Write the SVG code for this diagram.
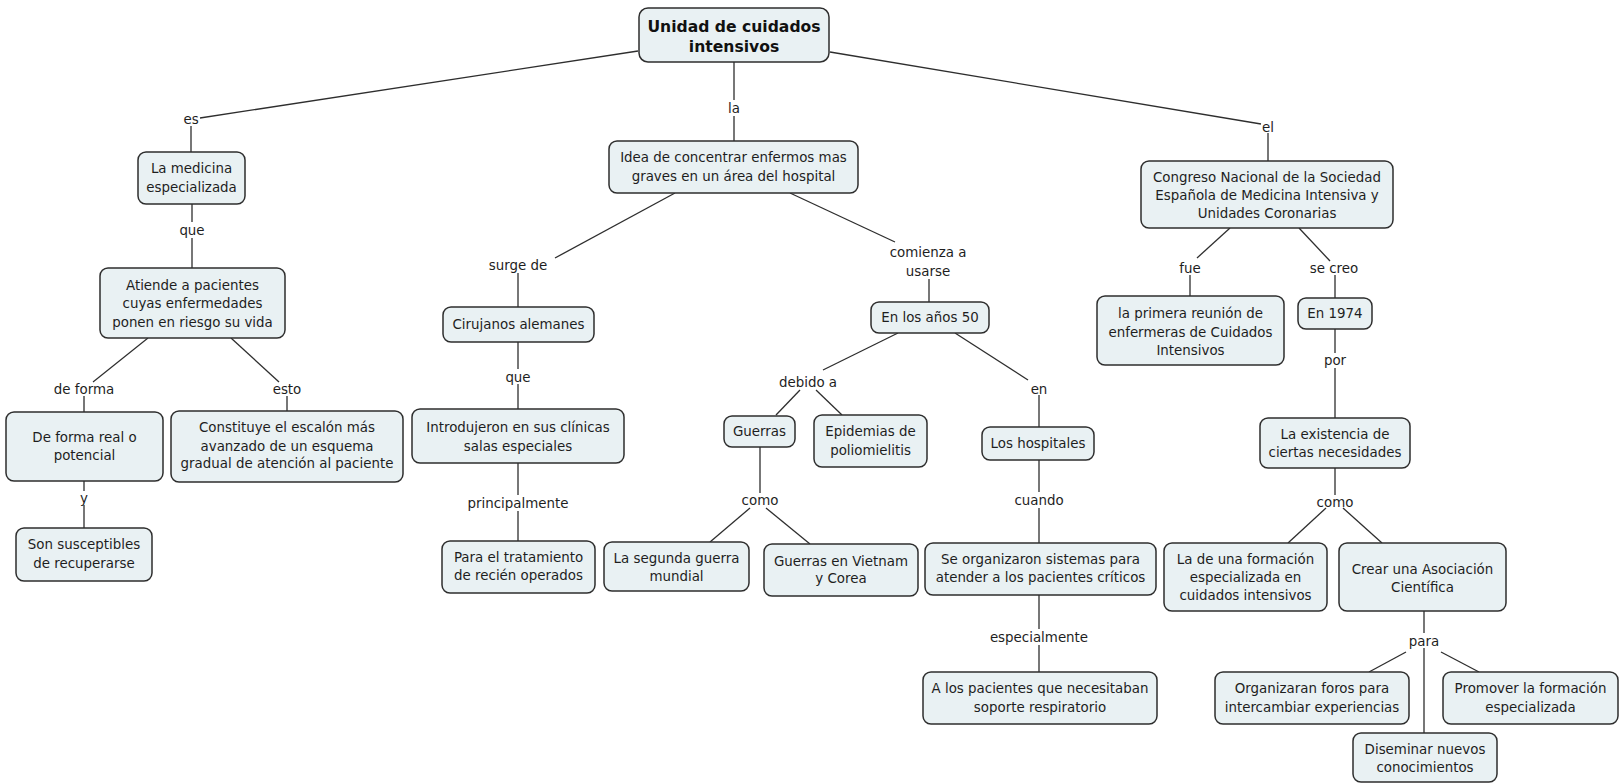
<svg xmlns="http://www.w3.org/2000/svg" width="1620" height="784" viewBox="0 0 1620 784">
<style>
.n rect{fill:#e9f1f3;stroke:#2e2e2e;stroke-width:1.5}
text{font-family:"DejaVu Sans","Liberation Sans",sans-serif;font-size:13.4px;fill:#1e1e1e;text-anchor:middle}
.b{font-weight:bold;font-size:15.6px;fill:#111}
.c line{stroke:#2e2e2e;stroke-width:1.3}
</style>
<rect width="1620" height="784" fill="#ffffff"/>
<g class="c" id="connectors">
<line x1="638" y1="51" x2="200" y2="118"/>
<line x1="191" y1="126" x2="191" y2="152"/>
<line x1="192" y1="204" x2="192" y2="222"/>
<line x1="192" y1="238" x2="192" y2="268"/>
<line x1="148" y1="338" x2="93" y2="382"/>
<line x1="231" y1="338" x2="279" y2="382"/>
<line x1="84" y1="396" x2="84" y2="412"/>
<line x1="287" y1="396" x2="287" y2="411"/>
<line x1="84" y1="481" x2="84" y2="491"/>
<line x1="84" y1="505" x2="84" y2="528"/>
<line x1="734" y1="62" x2="734" y2="100"/>
<line x1="734" y1="116" x2="734" y2="141"/>
<line x1="675" y1="193" x2="555" y2="258"/>
<line x1="518" y1="273" x2="518" y2="307"/>
<line x1="518" y1="342" x2="518" y2="369"/>
<line x1="518" y1="384" x2="518" y2="409"/>
<line x1="518" y1="463" x2="518" y2="495"/>
<line x1="518" y1="511" x2="518" y2="541"/>
<line x1="790" y1="193" x2="895" y2="242"/>
<line x1="929" y1="279" x2="929" y2="302"/>
<line x1="898" y1="333" x2="823" y2="370"/>
<line x1="955" y1="333" x2="1028" y2="380"/>
<line x1="800" y1="390" x2="776" y2="415"/>
<line x1="816" y1="390" x2="842" y2="415"/>
<line x1="1039" y1="395" x2="1039" y2="427"/>
<line x1="760" y1="447" x2="760" y2="493"/>
<line x1="750" y1="508" x2="710" y2="542"/>
<line x1="766" y1="508" x2="810" y2="544"/>
<line x1="1039" y1="460" x2="1039" y2="492"/>
<line x1="1039" y1="508" x2="1039" y2="543"/>
<line x1="1039" y1="595" x2="1039" y2="629"/>
<line x1="1039" y1="645" x2="1039" y2="672"/>
<line x1="830" y1="52" x2="1261" y2="124"/>
<line x1="1268" y1="133" x2="1268" y2="161"/>
<line x1="1230" y1="228" x2="1197" y2="258"/>
<line x1="1299" y1="228" x2="1330" y2="261"/>
<line x1="1190" y1="275" x2="1190" y2="296"/>
<line x1="1335" y1="275" x2="1335" y2="298"/>
<line x1="1335" y1="329" x2="1335" y2="353"/>
<line x1="1335" y1="368" x2="1335" y2="418"/>
<line x1="1335" y1="468" x2="1335" y2="495"/>
<line x1="1326" y1="508" x2="1288" y2="543"/>
<line x1="1343" y1="508" x2="1382" y2="543"/>
<line x1="1424" y1="611" x2="1424" y2="633"/>
<line x1="1406" y1="652" x2="1369" y2="672"/>
<line x1="1441" y1="652" x2="1479" y2="672"/>
<line x1="1424" y1="648" x2="1424" y2="733"/>
</g>
<g id="labels">
<text x="191" y="124">es</text>
<text x="192" y="235">que</text>
<text x="84" y="394">de forma</text>
<text x="287" y="394">esto</text>
<text x="84" y="503">y</text>
<text x="734" y="113">la</text>
<text x="518" y="270">surge de</text>
<text x="518" y="382">que</text>
<text x="518" y="508">principalmente</text>
<text x="928" y="257">comienza a</text>
<text x="928" y="276">usarse</text>
<text x="808" y="387">debido a</text>
<text x="1039" y="394">en</text>
<text x="760" y="505">como</text>
<text x="1039" y="505">cuando</text>
<text x="1039" y="642">especialmente</text>
<text x="1268" y="132">el</text>
<text x="1190" y="273">fue</text>
<text x="1334" y="273">se creo</text>
<text x="1335" y="365">por</text>
<text x="1335" y="507">como</text>
<text x="1424" y="646">para</text>
</g>
<g class="n" id="n-root"><rect x="639" y="8" width="190" height="54" rx="9"/><text class="b" x="734" y="31.6">Unidad de cuidados</text><text class="b" x="734" y="51.6">intensivos</text></g>
<g class="n" id="n-medicina"><rect x="138" y="152" width="107" height="52" rx="8"/><text x="191.5" y="173">La medicina</text><text x="191.5" y="192">especializada</text></g>
<g class="n" id="n-atiende"><rect x="100" y="268" width="185" height="70" rx="8"/><text x="192.5" y="290">Atiende a pacientes</text><text x="192.5" y="308">cuyas enfermedades</text><text x="192.5" y="327">ponen en riesgo su vida</text></g>
<g class="n" id="n-deforma"><rect x="6" y="412" width="157" height="69" rx="8"/><text x="84.5" y="442">De forma real o</text><text x="84.5" y="460">potencial</text></g>
<g class="n" id="n-constituye"><rect x="171" y="411" width="232" height="71" rx="8"/><text x="287" y="432">Constituye el escalón más</text><text x="287" y="451">avanzado de un esquema</text><text x="287" y="468">gradual de atención al paciente</text></g>
<g class="n" id="n-son"><rect x="16" y="528" width="136" height="53" rx="8"/><text x="84" y="549">Son susceptibles</text><text x="84" y="568">de recuperarse</text></g>
<g class="n" id="n-idea"><rect x="609" y="141" width="249" height="52" rx="8"/><text x="733.5" y="162">Idea de concentrar enfermos mas</text><text x="733.5" y="181">graves en un área del hospital</text></g>
<g class="n" id="n-cirujanos"><rect x="443" y="307" width="151" height="35" rx="8"/><text x="518.5" y="329">Cirujanos alemanes</text></g>
<g class="n" id="n-introdujeron"><rect x="412" y="409" width="212" height="54" rx="8"/><text x="518" y="432">Introdujeron en sus clínicas</text><text x="518" y="451">salas especiales</text></g>
<g class="n" id="n-tratamiento"><rect x="442" y="541" width="153" height="52" rx="8"/><text x="518.5" y="562">Para el tratamiento</text><text x="518.5" y="580">de recién operados</text></g>
<g class="n" id="n-anos50"><rect x="871" y="302" width="118" height="31" rx="8"/><text x="930" y="322">En los años 50</text></g>
<g class="n" id="n-guerras"><rect x="724" y="416" width="71" height="31" rx="8"/><text x="759.5" y="436">Guerras</text></g>
<g class="n" id="n-epidemias"><rect x="814" y="415" width="113" height="52" rx="8"/><text x="870.5" y="436">Epidemias de</text><text x="870.5" y="455">poliomielitis</text></g>
<g class="n" id="n-segunda"><rect x="604" y="542" width="145" height="49" rx="8"/><text x="676.5" y="563">La segunda guerra</text><text x="676.5" y="581">mundial</text></g>
<g class="n" id="n-vietnam"><rect x="764" y="544" width="154" height="52" rx="8"/><text x="841" y="566">Guerras en Vietnam</text><text x="841" y="583">y Corea</text></g>
<g class="n" id="n-hospitales"><rect x="982" y="427" width="112" height="33" rx="8"/><text x="1038" y="448">Los hospitales</text></g>
<g class="n" id="n-organizaron"><rect x="925" y="543" width="231" height="52" rx="8"/><text x="1040.5" y="564">Se organizaron sistemas para</text><text x="1040.5" y="582">atender a los pacientes críticos</text></g>
<g class="n" id="n-apacientes"><rect x="923" y="672" width="234" height="52" rx="8"/><text x="1040" y="693">A los pacientes que necesitaban</text><text x="1040" y="712">soporte respiratorio</text></g>
<g class="n" id="n-congreso"><rect x="1141" y="161" width="252" height="67" rx="8"/><text x="1267" y="182">Congreso Nacional de la Sociedad</text><text x="1267" y="200">Española de Medicina Intensiva y</text><text x="1267" y="218">Unidades Coronarias</text></g>
<g class="n" id="n-primera"><rect x="1097" y="296" width="187" height="69" rx="8"/><text x="1190.5" y="318">la primera reunión de</text><text x="1190.5" y="337">enfermeras de Cuidados</text><text x="1190.5" y="355">Intensivos</text></g>
<g class="n" id="n-1974"><rect x="1298" y="298" width="74" height="31" rx="8"/><text x="1335" y="318">En 1974</text></g>
<g class="n" id="n-existencia"><rect x="1260" y="418" width="150" height="50" rx="8"/><text x="1335" y="439">La existencia de</text><text x="1335" y="457">ciertas necesidades</text></g>
<g class="n" id="n-ladeuna"><rect x="1164" y="543" width="163" height="68" rx="8"/><text x="1245.5" y="564">La de una formación</text><text x="1245.5" y="582">especializada en</text><text x="1245.5" y="600">cuidados intensivos</text></g>
<g class="n" id="n-crear"><rect x="1339" y="543" width="167" height="68" rx="8"/><text x="1422.5" y="574">Crear una Asociación</text><text x="1422.5" y="592">Científica</text></g>
<g class="n" id="n-organizaran"><rect x="1215" y="672" width="194" height="52" rx="8"/><text x="1312" y="693">Organizaran foros para</text><text x="1312" y="712">intercambiar experiencias</text></g>
<g class="n" id="n-promover"><rect x="1443" y="672" width="175" height="52" rx="8"/><text x="1530.5" y="693">Promover la formación</text><text x="1530.5" y="712">especializada</text></g>
<g class="n" id="n-diseminar"><rect x="1353" y="733" width="144" height="49" rx="8"/><text x="1425" y="754">Diseminar nuevos</text><text x="1425" y="772">conocimientos</text></g>
</svg>
